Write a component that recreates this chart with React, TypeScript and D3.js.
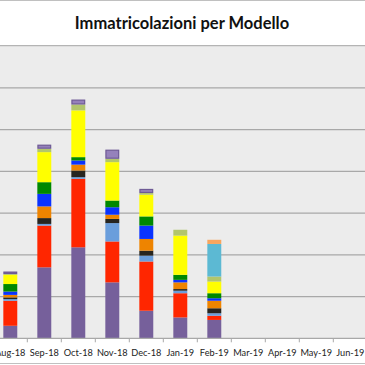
import React from 'react';
import * as d3 from 'd3';

const months = ['Aug-18', 'Sep-18', 'Oct-18', 'Nov-18', 'Dec-18', 'Jan-19', 'Feb-19', 'Mar-19', 'Apr-19', 'May-19', 'Jun-19'];

// one array per model, bottom of the stack first
const modelA = [15, 85, 109, 67, 33, 25, 22, 0, 0, 0, 0];
const modelB = [30, 50, 82, 49, 59, 29, 5, 0, 0, 0, 0];
const modelC = [2, 2, 2, 22, 7, 3, 3, 0, 0, 0, 0];
const modelD = [2, 7, 8, 5, 6, 2, 6, 0, 0, 0, 0];
const modelE = [3, 14, 7, 5, 14, 8, 9, 0, 0, 0, 0];
const modelF = [4, 15, 5, 9, 16, 3, 3, 0, 0, 0, 0];
const modelG = [9, 14, 4, 8, 11, 6, 6, 0, 0, 0, 0];
const modelH = [11, 36, 56, 46, 26, 47, 14, 0, 0, 0, 0];
const modelI = [1, 4, 7, 4, 2, 7, 6, 0, 0, 0, 0];
const modelJ = [0, 0, 0, 0, 0, 0, 39, 0, 0, 0, 0];
const modelK = [0, 0, 0, 0, 0, 0, 5, 0, 0, 0, 0];
const modelL = [3, 5, 6, 11, 5, 0, 0, 0, 0, 0, 0];

const yTicks = [0, 50, 100, 150, 200, 250, 300, 350];

const seriesList = [
  { key: 'A', values: modelA, color: '#76609b' },
  { key: 'B', values: modelB, color: '#ff2600' },
  { key: 'C', values: modelC, color: '#6a9edc' },
  { key: 'D', values: modelD, color: '#272520' },
  { key: 'E', values: modelE, color: '#ee8400' },
  { key: 'F', values: modelF, color: '#0a33ff' },
  { key: 'G', values: modelG, color: '#008800' },
  { key: 'H', values: modelH, color: '#ffff00' },
  { key: 'I', values: modelI, color: '#b2c66c' },
  { key: 'J', values: modelJ, color: '#5cb9d3' },
  { key: 'K', values: modelK, color: '#f8a55e' },
  { key: 'L', values: modelL, color: '#9581bb', stroke: '#6e5a95' },
];

const W = 365;
const H = 365;

export default function App() {
  const table = months.map((m, i) => {
    const row: any = { month: m };
    seriesList.forEach(s => { row[s.key] = s.values[i]; });
    return row;
  });
  const stacked = d3.stack().keys(seriesList.map(s => s.key))(table);

  const x = d3.scaleBand()
    .domain(months)
    .range([-6.7, 367.3])
    .paddingInner(0.59)
    .paddingOuter(0.295);

  const y = d3.scaleLinear().domain([0, 350]).range([338.3, 46.1]);
  const step = x.step();
  const x0 = -6.7;

  return (
    <svg width={W} height={H} style={{ position: 'absolute', left: 0, top: 0, fontFamily: 'Lato, sans-serif' }}>
      <rect x={0} y={0} width={W} height={H} fill="#ffffff" />
      <line x1={0} x2={W} y1={0.5} y2={0.5} stroke="#c0c0c0" />
      <line x1={0} x2={W} y1={363.5} y2={363.5} stroke="#c0c0c0" />
      <text x={182} y={29} textAnchor="middle" fontSize={16.5} fontWeight="bold" fill="#111">
        Immatricolazioni per Modello
      </text>
      <rect x={0} y={y(350)} width={W} height={y(0) - y(350)} fill="#ececec" />
      <line x1={0} x2={W} y1={y(350) - 0.5} y2={y(350) - 0.5} stroke="#b4b4b4" strokeWidth={1.2} />
      {yTicks.slice(1, -1).map(t => (
        <line key={t} x1={0} x2={W} y1={y(t)} y2={y(t)} stroke="#a8a8a8" strokeWidth={1.3} />
      ))}
      {stacked.map((layer, li) => {
        const s = seriesList[li];
        return (
          <g key={s.key}>
            {layer.map((d, i) => {
              const h = y(d[0]) - y(d[1]);
              if (h <= 0) return null;
              const bw = x.bandwidth();
              return (
                <rect
                  key={i}
                  x={(x(months[i]) as number) + (s.stroke ? 0.6 : 0)}
                  y={y(d[1]) + (s.stroke ? 0.6 : 0)}
                  width={bw - (s.stroke ? 1.2 : 0)}
                  height={h - (s.stroke ? 1.2 : 0)}
                  fill={s.color}
                  stroke={s.stroke || 'none'}
                  strokeWidth={s.stroke ? 1.2 : 0}
                />
              );
            })}
          </g>
        );
      })}
      <line x1={0} x2={W} y1={y(0)} y2={y(0)} stroke="#a8a8a8" strokeWidth={1.3} />
      {months.slice(1).map((m, i) => {
        const bx = x0 + step * (i + 1);
        return <line key={m} x1={bx} x2={bx} y1={y(0)} y2={y(0) + 4} stroke="#a8a8a8" />;
      })}
      {months.map(m => (
        <text key={m} x={(x(m) as number) + x.bandwidth() / 2} y={355.5} textAnchor="middle" fontSize={9.2} fill="#222">
          {m}
        </text>
      ))}
    </svg>
  );
}
